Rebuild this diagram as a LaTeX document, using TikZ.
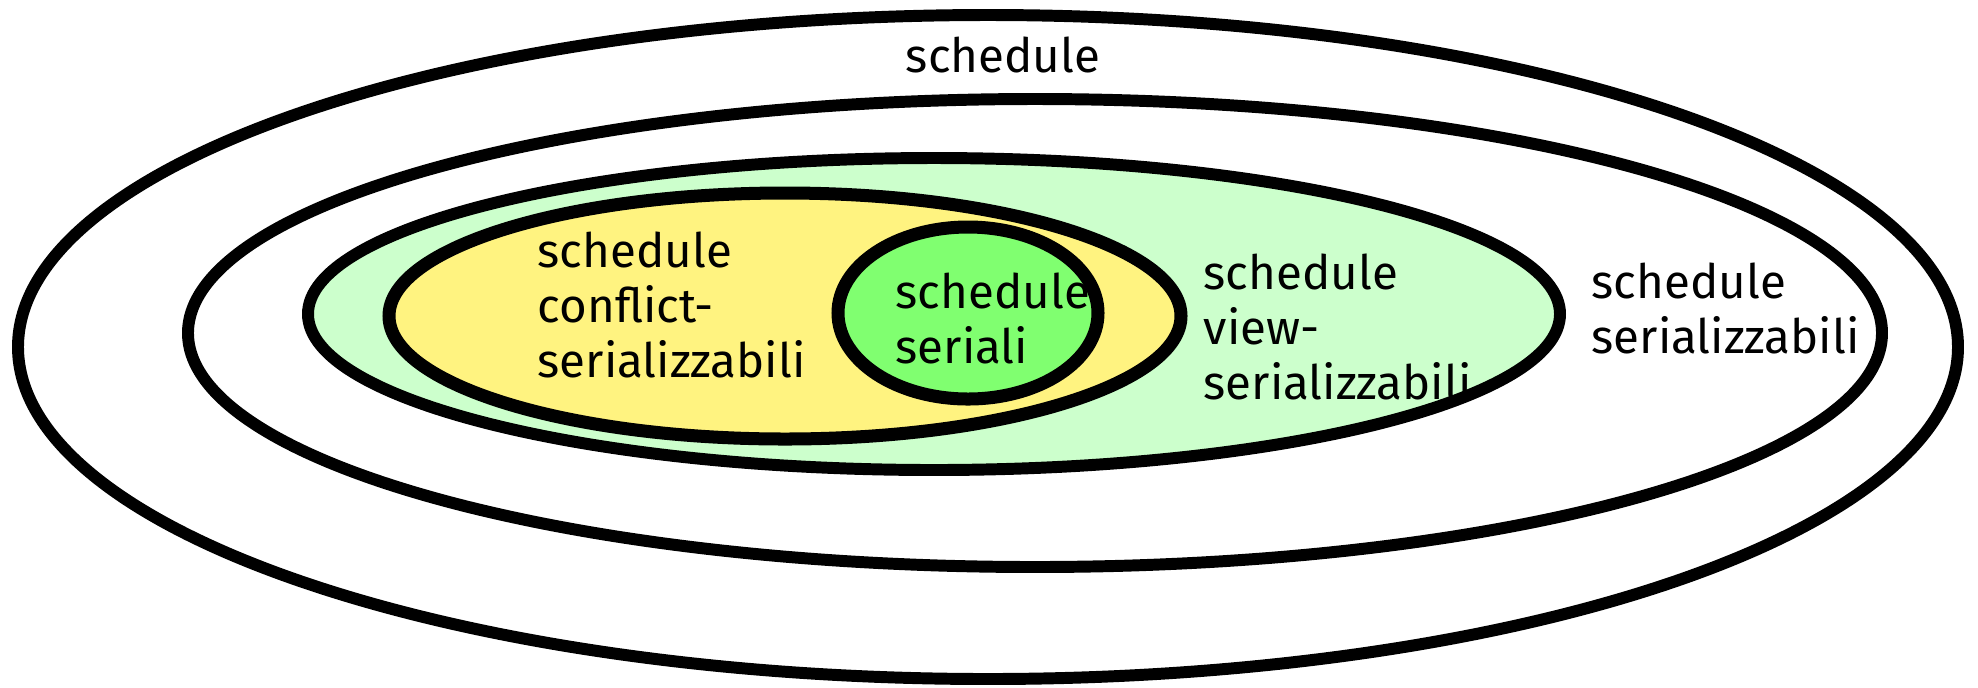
\documentclass[tikz,border=0pt]{standalone}
\usepackage{fontspec}
\setmainfont{Fira Sans}

\definecolor{verdechiaro}{HTML}{CCFFCC}
\definecolor{giallo}{HTML}{FFF380}
\definecolor{verde}{HTML}{80FF70}

\begin{document}
\begin{tikzpicture}[ x=0.01cm, y=-0.01cm,
	insieme/.style={draw=black, line width=3.4pt},
	etichetta/.style={anchor=north west, align=left, inner sep=0pt, font=\fontsize{13.5}{15.6}\selectfont} ]
	\useasboundingbox (0,0) rectangle (1978,687);
	% insiemi, dal piu' esterno al piu' interno
	\draw[insieme, fill=white] (988,347) ellipse [x radius=970, y radius=332];
	\draw[insieme, fill=white] (1035,333) ellipse [x radius=847, y radius=234];
	\draw[insieme, fill=verdechiaro] (934,314) ellipse [x radius=626, y radius=156];
	\draw[insieme, fill=giallo, line width=3.7pt] (785,316) ellipse [x radius=396, y radius=123];
	\draw[insieme, fill=verde, line width=3.7pt] (968,313) ellipse [x radius=130, y radius=86];
	% nomi degli insiemi
	\node[etichetta, anchor=base] (s) at (1003,72) {schedule};
	\node[etichetta] (sr) at (1591,262) {schedule\\serializzabili};
	\node[etichetta] (vs) at (1203,253) {schedule\\view-\\serializzabili};
	\node[etichetta] (cs) at (537,231) {schedule\\conflict-\\serializzabili};
	\node[etichetta] (se) at (895,272) {schedule\\seriali};
\end{tikzpicture}
\end{document}
